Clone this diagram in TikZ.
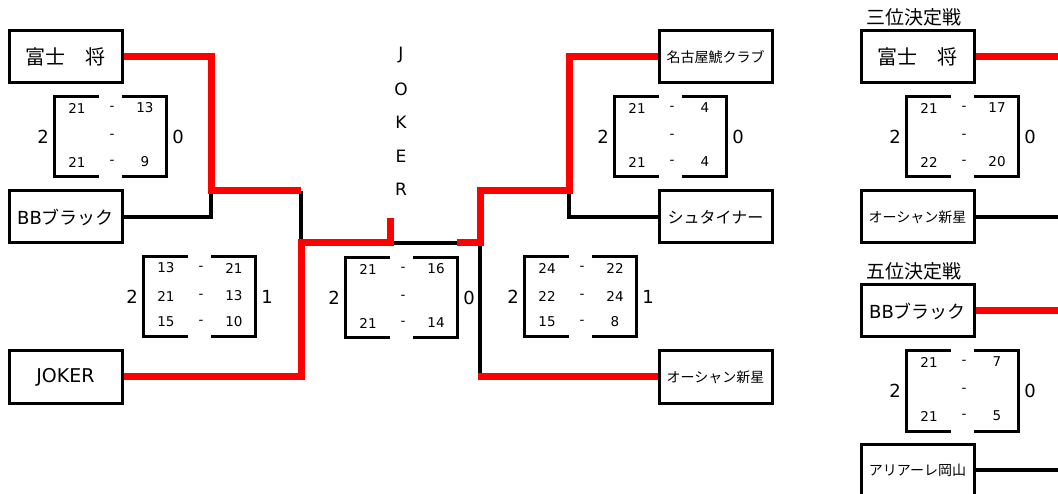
\documentclass[tikz,border=0pt]{standalone}
\usepackage{fontspec}
\setmainfont{DejaVu Sans}
\newfontfamily\jp{Noto Sans CJK JP}

\begin{document}
\begin{tikzpicture}[x=1pt,y=-1pt]
  % overall canvas
  \useasboundingbox (0,0) rectangle (1058,494);

  % styles
  \tikzset{
    team/.style={draw=black,line width=3pt,minimum width=113pt,minimum height=52pt,inner sep=0pt,fill=white},
    tname/.style={font=\fontsize{#1}{#1}\selectfont\jp},
    won/.style={draw=red,line width=7pt,line cap=butt,line join=miter},
    lost/.style={draw=black,line width=4.5pt,line cap=butt,line join=miter},
    brk/.style={draw=black,line width=3pt,line cap=butt,line join=miter},
    pts/.style={font=\fontsize{13.5}{15}\selectfont},
    games/.style={font=\fontsize{18}{20}\selectfont},
  }

  % white background
  \fill[white] (0,0) rectangle (1058,494);

  % join points of the bracket
  \coordinate (qa) at (211,191);
  \coordinate (sa) at (301,191);
  \coordinate (sb) at (301,243);
  \coordinate (fl) at (390,243);
  \coordinate (fw) at (390,218);
  \coordinate (fr) at (457,243);
  \coordinate (sc) at (480,243);
  \coordinate (sd) at (480,191);
  \coordinate (qb) at (569,191);
  \coordinate (se) at (478,377);

  % black lines (losers)
  \draw[lost] (122,217) -| (qa);
  \draw[lost] (sa) -- (sb);
  \draw[lost] (fl) -- (fr);
  \draw[lost] (659,217) -| (qb);
  \draw[lost] (sc) -- (sc |- se);

  % red lines (winners)
  \draw[won] (122,57) -| (qa) -- (sa);
  \draw[won] (122,377) -| (sb) -- (fl) -- (fw);
  \draw[won] (659,57) -| (qb) -- (sd) -- (sc) -- (fr);
  \draw[won] (659,377) -- (se);

  % placement matches on the right
  \coordinate (e3w) at (1058,57);
  \coordinate (e3l) at (1058,217);
  \coordinate (e5w) at (1058,311);
  \coordinate (e5l) at (1058,470);
  \draw[won]  (974,57)  -- (e3w);
  \draw[lost] (974,217) -- (e3l);
  \draw[won]  (974,311) -- (e5w);
  \draw[lost] (974,470) -- (e5l);

  % teams
  \node[team,tname=20] (fuji)   at (65.5,57)   {富士　将};
  \node[team,tname=18] (bbk)    at (65.5,217)  {{\fontspec{DejaVu Sans}BB}ブラック};
  \node[team,font=\fontsize{19}{20}\selectfont] (joker) at (65.5,377) {JOKER};
  \node[team,tname=14] (nagoya) at (715.5,57)  {名古屋鯱クラブ};
  \node[team,tname=16] (stein)  at (715.5,217) {シュタイナー};
  \node[team,tname=14] (ocean)  at (715.5,377) {オーシャン新星};
  \node[team,tname=20] (fuji3)  at (917.5,57)  {富士　将};
  \node[team,tname=14] (ocean3) at (917.5,217) {オーシャン新星};
  \node[team,tname=18] (bbk5)   at (917.5,311) {{\fontspec{DejaVu Sans}BB}ブラック};
  \node[team,tname=14] (ariare) at (917.5,470) {アリアーレ岡山};

  % titles
  \node[tname=19,anchor=west,inner sep=0pt] (t3) at (866,17)  {三位決定戦};
  \node[tname=19,anchor=west,inner sep=0pt] (t5) at (866,271) {五位決定戦};

  % champion written downwards
  \foreach \ch [count=\i] in {J,O,K,E,R}
    \node[font=\fontsize{17}{18}\selectfont] (champ\i) at (401,22+33.5*\i) {\ch};

  % score boxes: left, top, game1, game2, game3, sets
  \foreach \L/\T/\a/\b/\c/\d/\e/\f/\g/\h [count=\i] in {
      54/97/21/13/{}/{}/21/9/2/0,
      143/257/13/21/21/13/15/10/2/1,
      345/258/21/16/{}/{}/21/14/2/0,
      614/97/21/4/{}/{}/21/4/2/0,
      524/257/24/22/22/24/15/8/2/1,
      906/97/21/17/{}/{}/22/20/2/0,
      906/351/21/7/{}/{}/21/5/2/0}
  {
    \draw[brk] (\L+45,\T) -- (\L,\T) -- (\L,\T+80) -- (\L+45,\T+80);
    \draw[brk] (\L+68,\T) -- (\L+112,\T) -- (\L+112,\T+80) -- (\L+68,\T+80);
    \node[pts] (m\i-1a) at (\L+23,\T+11) {\a};
    \node[pts] (m\i-1d) at (\L+58,\T+11) {-};
    \node[pts] (m\i-1b) at (\L+91,\T+11) {\b};
    \node[pts] (m\i-2a) at (\L+23,\T+39) {\c};
    \node[pts] (m\i-2d) at (\L+58,\T+39) {-};
    \node[pts] (m\i-2b) at (\L+91,\T+39) {\d};
    \node[pts] (m\i-3a) at (\L+23,\T+65) {\e};
    \node[pts] (m\i-3d) at (\L+58,\T+65) {-};
    \node[pts] (m\i-3b) at (\L+91,\T+65) {\f};
    \node[games] (m\i-l) at (\L-11,\T+40)  {\g};
    \node[games] (m\i-r) at (\L+124,\T+40) {\h};
  }
\end{tikzpicture}
\end{document}
